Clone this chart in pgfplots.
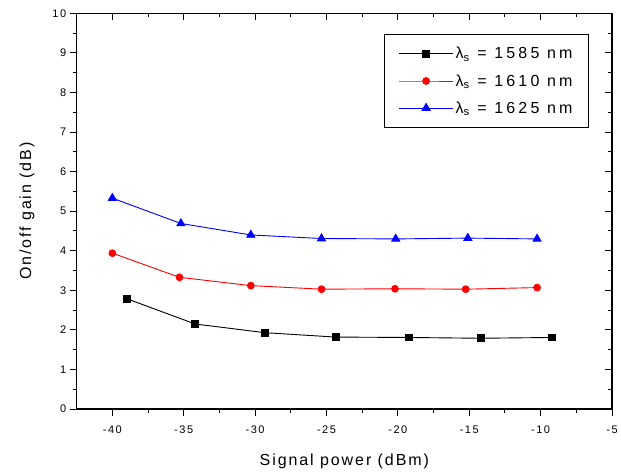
\documentclass[border=0pt]{standalone}
\usepackage{fontspec}
\setmainfont{Liberation Sans}
\newfontfamily\labfont[LetterSpace=12]{Liberation Sans}
\newfontfamily\tickfont[LetterSpace=14]{Liberation Sans}
\newfontfamily\legfont[LetterSpace=20]{Liberation Sans}
\usepackage{pgfplots}
\pgfplotsset{compat=1.18}
\begin{document}
\begin{tikzpicture}
\pgfplotsset{
  frame/.style={
    scale only axis, width=535.6pt, height=396pt,
    xmin=-42.5, xmax=-5, ymin=0, ymax=10,
    xtick={-40,-35,...,-5}, ytick={0,1,...,10},
    minor x tick num=1, minor y tick num=1,
    major tick length=7pt, minor tick length=4pt,
    every tick/.style={black, line width=1pt},
    axis line style={line width=1.5pt},
  },
}
% top/right frame with inward ticks
\begin{axis}[frame, axis x line*=top, axis y line*=right, tick align=inside,
  xticklabels={}, yticklabels={}]
\end{axis}
\begin{axis}[frame, axis x line*=bottom, axis y line*=left, tick align=outside,
  /pgf/number format/assume math mode=true,
  ticklabel style={font=\tickfont\fontsize{11}{13}\selectfont},
  xticklabel style={yshift=-6pt},
  xlabel={Signal power (dBm)}, ylabel={On/off gain (dB)},
  label style={font=\labfont\fontsize{16}{18}\selectfont},
  xlabel style={yshift=-14pt}, ylabel style={yshift=11pt},
  legend cell align=left,
  legend style={at={(0.957,0.948)}, anchor=north east, draw=black, line width=1pt,
    font=\legfont\fontsize{16}{18}\selectfont, row sep=10pt, inner xsep=14pt, inner ysep=11pt},
  legend image code/.code={
    \draw[mark repeat=2, mark phase=2] plot coordinates {(0pt,0pt) (27pt,0pt) (54pt,0pt)};},
]
\addplot[black, line width=0.9pt, mark=square*, mark size=3.4pt] coordinates {
  (-39,2.79) (-34.2,2.15) (-29.3,1.93) (-24.35,1.82) (-19.25,1.81) (-14.2,1.79) (-9.2,1.81)};
\addlegendentry{λ\textsubscript{s} = 1585 nm}
\addplot[red, line width=0.9pt, mark=*, mark size=3.4pt] coordinates {
  (-40,3.94) (-35.3,3.33) (-30.3,3.12) (-25.35,3.03) (-20.2,3.04) (-15.25,3.03) (-10.25,3.07)};
\addlegendentry{λ\textsubscript{s} = 1610 nm}
\addplot[blue, line width=0.9pt, mark=triangle*, mark size=4.6pt] coordinates {
  (-40,5.33) (-35.2,4.69) (-30.3,4.40) (-25.35,4.31) (-20.15,4.30) (-15.1,4.32) (-10.25,4.30)};
\addlegendentry{λ\textsubscript{s} = 1625 nm}
\end{axis}
\path ([xshift=-76.7pt,yshift=-62.7pt]current axis.south west) rectangle ([xshift=8.7pt,yshift=13.3pt]current axis.north east);
\end{tikzpicture}
\end{document}
